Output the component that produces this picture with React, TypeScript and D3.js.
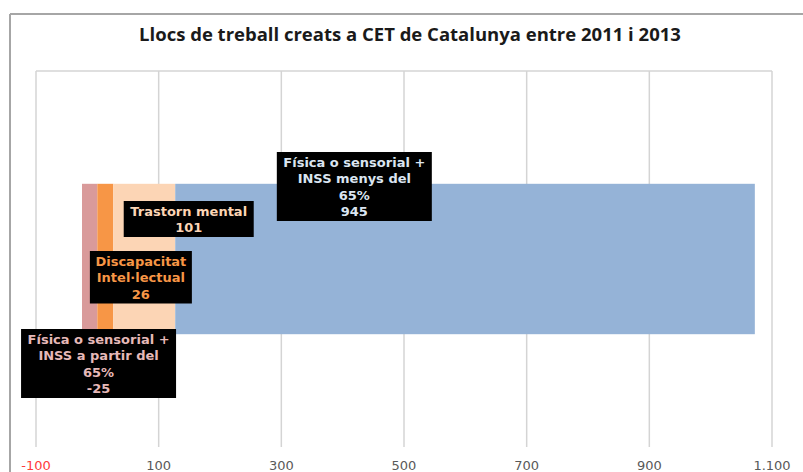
import React from "react";
import * as d3 from "d3";

const title = "Llocs de treball creats a CET de Catalunya entre 2011 i 2013";
const segNames = [
  "Física o sensorial + INSS a partir del 65%",
  "Discapacitat Intel·lectual",
  "Trastorn mental",
  "Física o sensorial + INSS menys del 65%",
];
const segValues = [-25, 26, 101, 945];
const segColors = ["#d99a9a", "#f79646", "#fcd5b5", "#95b3d7"];
const labelColors = ["#e6b9b8", "#f79646", "#fcd5b5", "#dbe5f1"];
const labelLines = [
  ["Física o sensorial +", "INSS a partir del", "65%", "-25"],
  ["Discapacitat", "Intel·lectual", "26"],
  ["Trastorn mental", "101"],
  ["Física o sensorial +", "INSS menys del", "65%", "945"],
];
// label box placement (center x in data units, top in px) and width
const labelCenter = [2, 71, 149, 419];
const labelTop = [329, 251, 201, 152];
const labelWidth = [155, 102, 130, 155];
const tickValues = [-100, 100, 300, 500, 700, 900, 1100];
const tickLabels = ["-100", "100", "300", "500", "700", "900", "1.100"];

const W = 803;
const H = 472;

export default function App() {
  const x = d3.scaleLinear().domain([-100, 1100]).range([36, 772]);
  const y = d3.scaleBand().domain(["CET"]).range([71, 447]).paddingInner(0).paddingOuter(0.75);

  let pos = 0;
  const segs = segValues.map((v, i) => {
    let x0: number, x1: number;
    if (v < 0) {
      x0 = v;
      x1 = 0;
    } else {
      x0 = pos;
      x1 = pos + v;
      pos += v;
    }
    return { x0, x1, color: segColors[i], name: segNames[i] };
  });

  const barY = y("CET")!;
  const barH = y.bandwidth();
  const lineH = 16.5;

  return (
    <svg
      width={W}
      height={H}
      style={{ position: "absolute", left: 0, top: 0, background: "#fff" }}
    >
      <rect x={0} y={0} width={W} height={H} fill="#fff" />
      <line x1={10} y1={14} x2={W} y2={14} stroke="#a6a6a6" strokeWidth={2} />
      <line x1={10} y1={14} x2={10} y2={H} stroke="#a6a6a6" strokeWidth={2} />
      <text
        x={410}
        y={41}
        textAnchor="middle"
        fontFamily="'Open Sans', sans-serif"
        fontWeight="bold"
        fontSize={18.5}
        fill="#1a1a1a"
      >
        {title}
      </text>
      <line x1={x(-100)} x2={x(1100)} y1={71} y2={71} stroke="#d4d4d4" strokeWidth={1.5} />
      {tickValues.map((t) => (
        <line key={t} x1={x(t)} x2={x(t)} y1={71} y2={447} stroke="#d4d4d4" strokeWidth={1.5} />
      ))}
      {segs.map((s, i) => (
        <rect
          key={i}
          x={x(s.x0)}
          y={barY}
          width={x(s.x1) - x(s.x0)}
          height={barH}
          fill={s.color}
        />
      ))}
      {tickValues.map((t, i) => (
        <text
          key={t}
          x={x(t)}
          y={470}
          textAnchor="middle"
          fontFamily="'DejaVu Sans', Verdana, sans-serif"
          fontSize={13}
          fill={t < 0 ? "#ff3b3b" : "#595959"}
        >
          {tickLabels[i]}
        </text>
      ))}
      {labelLines.map((lines, i) => {
        const cx = x(labelCenter[i]);
        const top = labelTop[i];
        const w = labelWidth[i];
        const h = lines.length * lineH + 3;
        return (
          <g key={i}>
            <rect x={cx - w / 2} y={top} width={w} height={h} fill="#000" />
            {lines.map((ln, j) => (
              <text
                key={j}
                x={cx}
                y={top + 14.5 + j * lineH}
                textAnchor="middle"
                fontFamily="'DejaVu Sans', Verdana, sans-serif"
                fontWeight="bold"
                fontSize={13}
                fill={labelColors[i]}
              >
                {ln}
              </text>
            ))}
          </g>
        );
      })}
    </svg>
  );
}
